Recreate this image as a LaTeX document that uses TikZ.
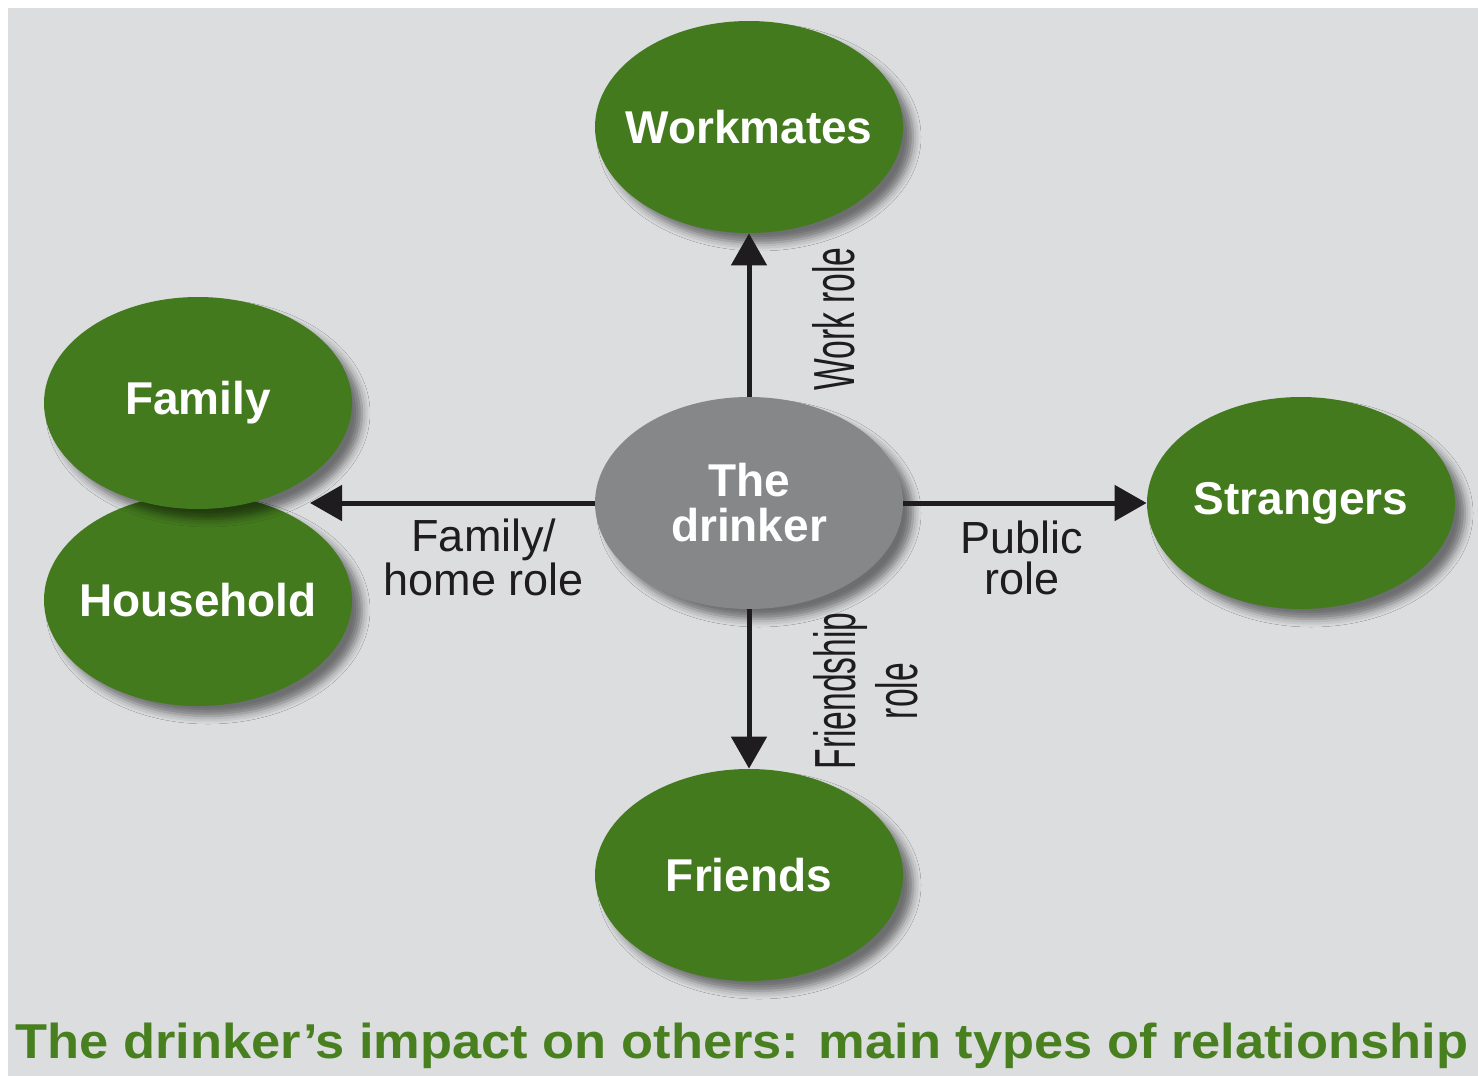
\documentclass[tikz,border=0pt]{standalone}
\usepackage{fontspec}
\setmainfont{Liberation Sans}
\usetikzlibrary{arrows.meta,shapes.geometric,shadows.blur}
\definecolor{bg}{RGB}{220,221,223}
\definecolor{leaf}{RGB}{68,122,30}
\definecolor{drk}{RGB}{134,135,136}
\definecolor{ink}{RGB}{30,28,30}
\definecolor{titlegreen}{RGB}{72,128,32}
\begin{document}
\begin{tikzpicture}[x=0.5pt,y=-0.5pt,
  bubble/.style={ellipse, minimum width=154pt, minimum height=106pt, inner sep=0pt,
    fill=leaf,
    blur shadow={shadow xshift=5pt, shadow yshift=-5pt, shadow blur radius=4pt, shadow opacity=50}},
  centre/.style={bubble, fill=drk},
  btext/.style={text=white, font=\fontsize{23}{22.5}\selectfont\bfseries, align=center, inner sep=0pt},
  arr/.style={line width=2.5pt, draw=ink, -{Triangle[width=17.5pt,length=16pt]}},
  rolelabel/.style={text=ink, font=\fontsize{22.5}{20.5}\selectfont, align=center, inner sep=0pt},
  sidelabel/.style={text=ink, font=\fontsize{29}{31}\selectfont, align=center, inner sep=0pt, rotate=90, xscale=0.58},
  titlestyle/.style={text=titlegreen, font=\fontsize{24.5}{24.5}\selectfont\bfseries, inner sep=0pt, anchor=base, xscale=1.07}
]
\useasboundingbox (0,0) rectangle (1478,1076);
\fill[white] (0,0) rectangle (1478,1076);
\fill[bg] (8,8) rectangle (1478,1076);

\node[bubble, label={[btext]center:Workmates}] (work) at (749,127) {};
\node[bubble, label={[btext]center:Household}] (house) at (198,600) {};
\node[bubble, label={[btext]center:Family}] (fam) at (198,403) {};
\node[centre, label={[btext]center:{The\\drinker}}] (drinker) at (749,503) {};
\node[bubble, label={[btext]center:Strangers}] (str) at (1301,503) {};
\node[bubble, label={[btext]center:Friends}] (friends) at (749,875) {};

\coordinate (famtip) at (310,503);

\draw[arr] (drinker.north) -- (work.south);
\draw[arr] (drinker.south) -- (friends.north);
\draw[arr] (drinker.west) -- (famtip);
\draw[arr] (drinker.east) -- (str.west);

\node[rolelabel] (lfam) at (484,557) {Family/\\home role};
\node[rolelabel] (lpub) at (1022,558) {Public\\role};
\node[sidelabel] (lwork) at (834,319) {Work role};
\node[sidelabel] (lfriend) at (866,691) {Friendship\\role};

\node[titlestyle] (title) at (742,1058) {The drinker’s impact on others: main types of relationship};
\end{tikzpicture}
\end{document}
